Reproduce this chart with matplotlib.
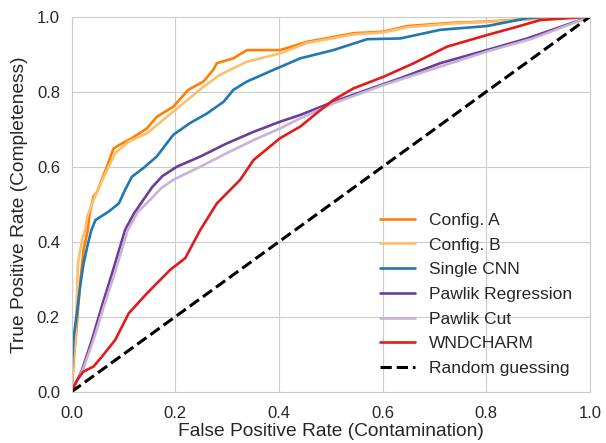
import matplotlib
matplotlib.use('Agg')
import matplotlib.pyplot as plt
import seaborn as sns

# ROC curves (false positive rate, true positive rate) per classifier
config_a_fpr = [0.0, 0.005, 0.010, 0.017, 0.023, 0.031, 0.034, 0.042, 0.049, 0.058, 0.068, 0.075,
                0.081, 0.097, 0.116, 0.145, 0.164, 0.196, 0.225, 0.254, 0.273, 0.280, 0.312, 0.338,
                0.402, 0.454, 0.544, 0.602, 0.647, 0.737, 0.801, 0.904, 1.0]
config_a_tpr = [0.0, 0.10, 0.18, 0.30, 0.38, 0.43, 0.47, 0.52, 0.533, 0.565, 0.60, 0.627,
                0.649, 0.662, 0.676, 0.702, 0.733, 0.760, 0.805, 0.827, 0.858, 0.876, 0.889, 0.911,
                0.911, 0.933, 0.956, 0.960, 0.975, 0.984, 0.987, 0.996, 1.0]

config_b_fpr = [0.0, 0.003, 0.007, 0.010, 0.011, 0.012, 0.020, 0.026, 0.030, 0.042, 0.065, 0.084,
                0.110, 0.145, 0.196, 0.254, 0.286, 0.338, 0.402, 0.454, 0.544, 0.602, 0.647,
                0.737, 0.801, 0.904, 1.0]
config_b_tpr = [0.0, 0.08, 0.138, 0.253, 0.30, 0.342, 0.405, 0.431, 0.467, 0.511, 0.582, 0.636,
                0.667, 0.689, 0.747, 0.813, 0.845, 0.880, 0.902, 0.930, 0.953, 0.958, 0.972,
                0.982, 0.986, 0.995, 1.0]

cnn_fpr = [0.0, 0.0, 0.004, 0.010, 0.017, 0.023, 0.030, 0.038, 0.046, 0.071, 0.091, 0.103, 0.116,
           0.138, 0.164, 0.196, 0.228, 0.261, 0.293, 0.312, 0.338, 0.389, 0.441, 0.505, 0.570,
           0.634, 0.711, 0.801, 0.879, 0.92, 1.0]
cnn_tpr = [0.0, 0.06, 0.147, 0.209, 0.289, 0.342, 0.387, 0.431, 0.458, 0.480, 0.502, 0.538, 0.573,
           0.596, 0.627, 0.685, 0.716, 0.742, 0.773, 0.805, 0.827, 0.858, 0.889, 0.911, 0.940,
           0.942, 0.965, 0.975, 0.996, 1.0, 1.0]

pawlik_reg_fpr = [0.0, 0.020, 0.039, 0.058, 0.078, 0.103, 0.120, 0.138, 0.155, 0.175, 0.203, 0.248,
                  0.299, 0.351, 0.402, 0.441, 0.505, 0.570, 0.634, 0.711, 0.801, 0.879, 1.0]
pawlik_reg_tpr = [0.0, 0.058, 0.138, 0.227, 0.316, 0.431, 0.475, 0.511, 0.545, 0.575, 0.600, 0.627,
                  0.662, 0.693, 0.720, 0.738, 0.773, 0.805, 0.836, 0.876, 0.911, 0.942, 1.0]

pawlik_cut_fpr = [0.0, 0.022, 0.042, 0.062, 0.083, 0.108, 0.128, 0.151, 0.172, 0.196, 0.248, 0.299,
                  0.351, 0.402, 0.441, 0.505, 0.602, 0.711, 0.801, 0.890, 1.0]
pawlik_cut_tpr = [0.0, 0.06, 0.138, 0.227, 0.316, 0.431, 0.48, 0.511, 0.542, 0.565, 0.600, 0.636,
                  0.671, 0.702, 0.729, 0.769, 0.818, 0.867, 0.907, 0.942, 1.0]

wnd_fpr = [0.0, 0.010, 0.022, 0.042, 0.058, 0.084, 0.110, 0.145, 0.19, 0.219, 0.248, 0.280, 0.325,
           0.351, 0.402, 0.441, 0.480, 0.505, 0.544, 0.602, 0.660, 0.724, 0.801, 0.859, 0.904, 1.0]
wnd_tpr = [0.0, 0.03, 0.053, 0.067, 0.093, 0.138, 0.209, 0.262, 0.325, 0.356, 0.431, 0.502, 0.565,
           0.618, 0.676, 0.707, 0.751, 0.778, 0.809, 0.84, 0.876, 0.92, 0.951, 0.973, 0.991, 1.0]

curves = [
    ('Config. A', config_a_fpr, config_a_tpr, '#ff7f00'),
    ('Config. B', config_b_fpr, config_b_tpr, '#fdbf6f'),
    ('Single CNN', cnn_fpr, cnn_tpr, '#1f78b4'),
    ('Pawlik Regression', pawlik_reg_fpr, pawlik_reg_tpr, '#6a3d9a'),
    ('Pawlik Cut', pawlik_cut_fpr, pawlik_cut_tpr, '#cab2d6'),
    ('WNDCHARM', wnd_fpr, wnd_tpr, '#e31a1c'),
]

sns.set_style('whitegrid')
plt.rcParams['font.family'] = ['Liberation Sans', 'DejaVu Sans']

fig = plt.figure(figsize=(6.06, 4.43), dpi=100)
ax = fig.add_axes([0.1183, 0.1158, 0.8553, 0.8465])

for label, fpr, tpr, color in curves:
    ax.plot(fpr, tpr, color=color, lw=1.9, label=label)
ax.plot([0, 1], [0, 1], 'k--', lw=2.2, label='Random guessing')

ax.set_xlim(0, 1)
ax.set_ylim(0, 1)
ax.set_xlabel('False Positive Rate (Contamination)', fontsize=13.8, color='0.15', labelpad=1)
ax.set_ylabel('True Positive Rate (Completeness)', fontsize=13.8, color='0.15', labelpad=6)
ax.tick_params(labelsize=12, colors='0.15')
ax.tick_params(axis='x', pad=7)
ax.tick_params(axis='y', pad=5)
ax.legend(loc='lower right', bbox_to_anchor=(0.995, 0.0), frameon=False, fontsize=12.5,
          handlelength=2.0, labelspacing=0.55)

fig.savefig('out.png', dpi=100)
